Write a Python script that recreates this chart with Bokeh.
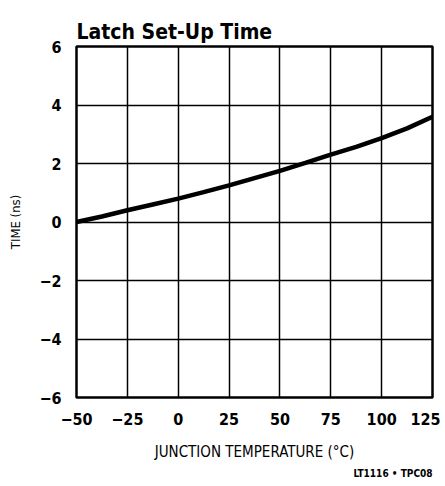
from bokeh.plotting import figure
from bokeh.models import Title, FixedTicker, Range1d
from bokeh.embed import file_html
from bokeh.resources import INLINE

temps = [-50, -37.5, -25, -12.5, 0, 12.5, 25, 37.5, 50, 62.5, 75, 87.5, 100, 112.5, 125]
times = [0.0, 0.19, 0.4, 0.6, 0.8, 1.02, 1.25, 1.5, 1.75, 2.02, 2.3, 2.57, 2.87, 3.2, 3.6]

x_ticks = [-50, -25, 0, 25, 50, 75, 100, 125]
y_ticks = [-6, -4, -2, 0, 2, 4, 6]

FONT = "DejaVu Sans Condensed"

p = figure(width=440, height=480, output_backend="svg", toolbar_location=None,
           x_range=Range1d(-50, 125), y_range=Range1d(-6, 6),
           min_border_left=76, min_border_right=8, min_border_top=46, min_border_bottom=80)

p.line(temps, times, line_color="black", line_width=4.5)

p.title.text = "Latch Set-Up Time"
p.title.text_font = FONT
p.title.text_font_size = "21px"
p.title.text_font_style = "bold"
p.title.text_color = "black"
p.title.align = "left"
p.title.offset = 0
p.title.standoff = 6

p.outline_line_color = "black"
p.outline_line_width = 2.5
p.outline_line_alpha = 1

for ax in (p.xaxis[0], p.yaxis[0]):
    ax.axis_line_color = None
    ax.major_tick_line_color = None
    ax.minor_tick_line_color = None
    ax.major_label_text_font = FONT
    ax.major_label_text_font_size = "16px"
    ax.major_label_text_font_style = "bold"
    ax.major_label_text_color = "black"
    ax.axis_label_text_font = FONT
    ax.axis_label_text_font_style = "normal"
    ax.axis_label_text_color = "black"

p.xaxis.ticker = FixedTicker(ticks=x_ticks)
p.yaxis.ticker = FixedTicker(ticks=y_ticks)
p.xaxis.major_label_overrides = {t: (str(t).replace("-", "\u2212")) for t in x_ticks}
p.yaxis.major_label_overrides = {t: (str(t).replace("-", "\u2212")) for t in y_ticks}
p.xaxis.major_label_standoff = 9
p.yaxis.major_label_standoff = 9

p.xaxis.axis_label = "JUNCTION TEMPERATURE (\u00b0C)"
p.xaxis.axis_label_text_font_size = "15px"
p.xaxis.axis_label_standoff = 15
p.yaxis.axis_label = "TIME (ns)"
p.yaxis.axis_label_text_font_size = "13px"
p.yaxis.axis_label_standoff = 13

p.xgrid.ticker = FixedTicker(ticks=x_ticks)
p.ygrid.ticker = FixedTicker(ticks=y_ticks)
for g in (p.xgrid[0], p.ygrid[0]):
    g.grid_line_color = "black"
    g.grid_line_width = 1.5
    g.grid_line_alpha = 1

p.add_layout(Title(text="LT1116 \u2022 TPC08", align="right", text_font="DejaVu Sans Condensed",
                   text_font_size="10px", text_font_style="bold", text_color="black", standoff=4), "below")

p.background_fill_color = "white"
p.border_fill_color = "white"

open("out.html", "w").write(file_html(p, INLINE))
